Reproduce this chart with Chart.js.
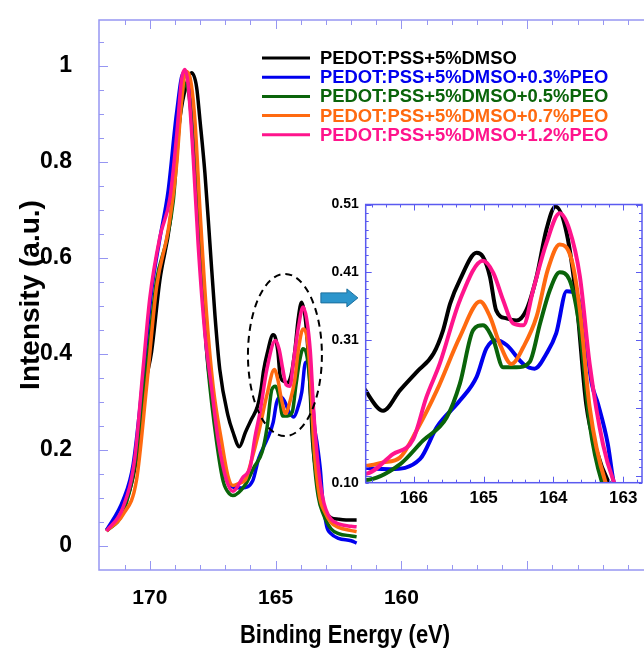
<!DOCTYPE html>
<html>
<head>
<meta charset="utf-8">
<script src="https://cdn.jsdelivr.net/npm/chart.js@4.4.0/dist/chart.umd.min.js"></script>
<style>
  html, body { margin: 0; padding: 0; background: #fff; overflow: hidden; }
  #wrap { position: relative; width: 644px; height: 650px; overflow: hidden; }
  #main { position: absolute; left: 0; top: 0; }
  #inset { position: absolute; left: 320px; top: 190px; }
</style>
</head>
<body>
<div id="wrap">
  <canvas id="main" width="660" height="650"></canvas>
  <canvas id="inset" width="324" height="320"></canvas>
</div>
<script>
// sample names and colours
const seriesLabels = [
    'PEDOT:PSS+5%DMSO',
    'PEDOT:PSS+5%DMSO+0.3%PEO',
    'PEDOT:PSS+5%DMSO+0.5%PEO',
    'PEDOT:PSS+5%DMSO+0.7%PEO',
    'PEDOT:PSS+5%DMSO+1.2%PEO'
];
const seriesColors = ['#000000', '#0000ee', '#0a640a', '#ff6a10', '#ff148c'];

// S 2p spectra: binding energy (eV) / normalised intensity
const beDMSO = [171.72, 171.06, 170.53, 170.2, 169.93, 169.6, 169.2, 168.81, 168.54, 168.34, 168.14, 168.01, 167.81, 167.61, 167.41, 167.22, 166.89, 166.70, 166.44, 166.2, 165.96, 165.72, 165.58, 165.48, 165.34, 165.10, 165.01, 164.91, 164.82, 164.67, 164.53, 164.39, 164.24, 164.10, 163.97, 163.81, 163.67, 163.53, 163.38, 163.22, 163.0, 162.8, 162.5, 162.0, 161.78];
const intDMSO = [0.032, 0.077, 0.181, 0.33, 0.404, 0.553, 0.672, 0.888, 0.962, 0.985, 0.955, 0.888, 0.776, 0.628, 0.479, 0.367, 0.27, 0.237, 0.206, 0.236, 0.263, 0.29, 0.325, 0.364, 0.399, 0.439, 0.433, 0.404, 0.354, 0.342, 0.339, 0.354, 0.404, 0.473, 0.507, 0.468, 0.369, 0.216, 0.147, 0.103, 0.07, 0.058, 0.055, 0.053, 0.053];

const bePEO03 = [171.72, 171.06, 170.66, 170.27, 169.93, 169.6, 169.27, 168.94, 168.67, 168.48, 168.28, 168.01, 167.74, 167.48, 167.22, 166.95, 166.70, 166.34, 165.91, 165.67, 165.34, 165.10, 164.96, 164.82, 164.67, 164.43, 164.27, 164.10, 163.96, 163.81, 163.67, 163.57, 163.45, 163.36, 163.22, 163.14, 162.97, 162.8, 162.5, 162.0, 161.78];
const intPEO03 = [0.032, 0.095, 0.17, 0.35, 0.53, 0.64, 0.74, 0.9, 0.985, 0.97, 0.851, 0.628, 0.404, 0.293, 0.196, 0.136, 0.122, 0.12, 0.135, 0.182, 0.221, 0.256, 0.298, 0.31, 0.303, 0.275, 0.268, 0.29, 0.32, 0.382, 0.379, 0.335, 0.246, 0.216, 0.157, 0.103, 0.04, 0.025, 0.015, 0.01, 0.005];

const bePEO05 = [171.72, 171.06, 170.6, 170.13, 169.73, 169.34, 169.07, 168.81, 168.61, 168.41, 168.21, 167.94, 167.68, 167.35, 167.08, 166.82, 166.70, 166.20, 165.87, 165.53, 165.34, 165.15, 165.01, 164.86, 164.72, 164.53, 164.34, 164.19, 164.05, 163.91, 163.77, 163.62, 163.48, 163.31, 163.1, 162.8, 162.5, 162.0, 161.78];
const intPEO05 = [0.03, 0.07, 0.166, 0.367, 0.553, 0.635, 0.717, 0.888, 0.962, 0.925, 0.776, 0.553, 0.367, 0.218, 0.133, 0.107, 0.104, 0.127, 0.162, 0.196, 0.246, 0.325, 0.332, 0.31, 0.27, 0.27, 0.278, 0.335, 0.384, 0.41, 0.399, 0.325, 0.187, 0.103, 0.065, 0.035, 0.025, 0.02, 0.018];

const bePEO07 = [171.72, 171.06, 170.53, 170.13, 169.73, 169.27, 168.94, 168.74, 168.57, 168.41, 168.21, 168.01, 167.74, 167.48, 167.15, 166.89, 166.70, 166.44, 166.20, 165.96, 165.67, 165.34, 165.05, 164.91, 164.77, 164.60, 164.43, 164.24, 164.08, 163.91, 163.74, 163.62, 163.48, 163.26, 163.05, 162.8, 162.5, 162.0, 161.78];
const intPEO07 = [0.03, 0.065, 0.136, 0.33, 0.539, 0.657, 0.791, 0.925, 0.988, 0.977, 0.888, 0.702, 0.479, 0.33, 0.218, 0.144, 0.125, 0.13, 0.137, 0.177, 0.236, 0.315, 0.367, 0.345, 0.305, 0.275, 0.30, 0.345, 0.414, 0.451, 0.429, 0.354, 0.211, 0.103, 0.07, 0.048, 0.038, 0.031, 0.029];

const bePEO12 = [171.72, 171.06, 170.6, 170.27, 170.0, 169.6, 169.2, 168.94, 168.74, 168.61, 168.48, 168.28, 168.08, 167.81, 167.55, 167.28, 166.95, 166.70, 166.30, 166.01, 165.82, 165.63, 165.34, 165.01, 164.86, 164.72, 164.58, 164.43, 164.29, 164.10, 163.91, 163.77, 163.62, 163.48, 163.29, 163.14, 163.0, 162.8, 162.5, 162.0, 161.78];
const intPEO12 = [0.03, 0.08, 0.181, 0.367, 0.516, 0.643, 0.724, 0.851, 0.97, 0.992, 0.962, 0.813, 0.628, 0.441, 0.33, 0.218, 0.136, 0.113, 0.142, 0.164, 0.226, 0.275, 0.369, 0.427, 0.409, 0.369, 0.335, 0.332, 0.384, 0.453, 0.497, 0.473, 0.404, 0.275, 0.157, 0.103, 0.075, 0.055, 0.045, 0.04, 0.039];

const energies = [beDMSO, bePEO03, bePEO05, bePEO07, bePEO12];
const intensities = [intDMSO, intPEO03, intPEO05, intPEO07, intPEO12];

// tick labels
const mainXLabels = [170, 165, 160];
const mainXMajor = [170, 165, 160, 155];
const mainYLabels = [0, 0.2, 0.4, 0.6, 0.8, 1];
const insetXLabels = [166, 165, 164, 163];
const insetYLabels = [0.51, 0.41, 0.31, 0.10];
const insetYMajor = [0.51, 0.41, 0.31, 0.21, 0.11];

const FONT = "'Liberation Sans', Arial, sans-serif";

function steps(from, to, step) {
    const out = [];
    const n = Math.round((to - from) / step);
    for (let i = 0; i <= n; i++) out.push(Math.round((from + i * step) * 1e4) / 1e4);
    return out;
}
const mainXTicks = steps(151, 171, 1);
const mainYTicks = steps(0, 1.05, 0.05);
const insetXTicks = steps(162.8, 166.6, 0.2);
const insetYTicks = steps(0.11, 0.51, 0.0125);

const near = (list, v) => list.find(t => Math.abs(t - v) < 1e-6);

function makeDatasets(width) {
    return seriesLabels.map((label, i) => ({
        label: label,
        data: energies[i].map((x, j) => ({ x: x, y: intensities[i][j] })),
        borderColor: seriesColors[i],
        backgroundColor: seriesColors[i],
        borderWidth: width,
        pointRadius: 0,
        fill: false,
        cubicInterpolationMode: 'monotone',
        order: 4 - i
    }));
}

// no extra label padding around the plot box, so the box sits where we ask
function noPad(s) {
    s.paddingTop = 0; s.paddingBottom = 0; s.paddingLeft = 0; s.paddingRight = 0;
}

// box frame with inward ticks on all four sides
function makeFrame(cfg) {
    return {
        id: 'frame',
        beforeDraw(chart) {
            if (!cfg.fill) return;
            const a = chart.chartArea;
            chart.ctx.save();
            chart.ctx.fillStyle = cfg.fill;
            chart.ctx.fillRect(a.left, a.top, a.width, a.height);
            chart.ctx.restore();
        },
        afterDatasetsDraw(chart) {
            const { ctx, chartArea: a, scales: { x, y } } = chart;
            ctx.save();
            ctx.strokeStyle = cfg.color;
            ctx.lineWidth = 1;
            ctx.beginPath();
            x.ticks.forEach(t => {
                const px = Math.round(x.getPixelForValue(t.value)) + 0.5;
                const len = near(cfg.majorX, t.value) !== undefined ? cfg.major : cfg.minor;
                ctx.moveTo(px, a.bottom); ctx.lineTo(px, a.bottom - len);
                ctx.moveTo(px, a.top); ctx.lineTo(px, a.top + len);
            });
            y.ticks.forEach(t => {
                const py = Math.round(y.getPixelForValue(t.value)) + 0.5;
                const len = near(cfg.majorY, t.value) !== undefined ? cfg.major : cfg.minor;
                ctx.moveTo(a.left, py); ctx.lineTo(a.left + len, py);
                ctx.moveTo(a.right, py); ctx.lineTo(a.right - len, py);
            });
            ctx.stroke();
            ctx.lineWidth = cfg.frameWidth;
            ctx.strokeRect(a.left, a.top, a.width, a.height);
            ctx.restore();
        }
    };
}

// ellipse + arrow marking the zoomed region, legend and x title
const ellipseCenter = [164.63, 0.397];
const ellipseRadius = [1.47, 0.169];
const arrowFrom = [163.2, 0.516];
const arrowTo = [161.73, 0.516];

const annotations = {
    id: 'annotations',
    afterDraw(chart) {
        const { ctx, scales: { x, y } } = chart;
        ctx.save();
        const cx = x.getPixelForValue(ellipseCenter[0]);
        const cy = y.getPixelForValue(ellipseCenter[1]);
        const rx = Math.abs(x.getPixelForValue(ellipseCenter[0] + ellipseRadius[0]) - cx);
        const ry = Math.abs(y.getPixelForValue(ellipseCenter[1] + ellipseRadius[1]) - cy);
        ctx.setLineDash([7, 5]);
        ctx.lineWidth = 2;
        ctx.strokeStyle = '#000';
        ctx.beginPath();
        ctx.ellipse(cx, cy, rx, ry, 0, 0, Math.PI * 2);
        ctx.stroke();
        ctx.setLineDash([]);

        const x0 = x.getPixelForValue(arrowFrom[0]);
        const x1 = x.getPixelForValue(arrowTo[0]);
        const ay = y.getPixelForValue(arrowFrom[1]);
        const head = 11;
        ctx.beginPath();
        ctx.moveTo(x0, ay - 5);
        ctx.lineTo(x1 - head, ay - 5);
        ctx.lineTo(x1 - head, ay - 9);
        ctx.lineTo(x1, ay);
        ctx.lineTo(x1 - head, ay + 9);
        ctx.lineTo(x1 - head, ay + 5);
        ctx.lineTo(x0, ay + 5);
        ctx.closePath();
        ctx.fillStyle = '#2c95cc';
        ctx.fill();
        ctx.lineWidth = 1;
        ctx.strokeStyle = '#1c6f9e';
        ctx.stroke();

        // legend
        ctx.font = 'bold 18.4px ' + FONT;
        ctx.textBaseline = 'middle';
        ctx.textAlign = 'left';
        seriesLabels.forEach((label, i) => {
            const ly = 58 + i * 19.2;
            ctx.strokeStyle = seriesColors[i];
            ctx.lineWidth = 3;
            ctx.beginPath();
            ctx.moveTo(262, ly);
            ctx.lineTo(310, ly);
            ctx.stroke();
            ctx.fillStyle = seriesColors[i];
            ctx.fillText(label, 320, ly + 1);
        });

        // x axis title, slightly tall like the original lettering
        ctx.font = 'bold 22px ' + FONT;
        ctx.fillStyle = '#000';
        ctx.textAlign = 'center';
        ctx.translate(345, 636);
        ctx.scale(1, 1.2);
        ctx.fillText('Binding Energy (eV)', 0, 0);
        ctx.restore();
    }
};

const tickFont = size => ({ family: FONT, size: size, weight: 'bold' });

new Chart(document.getElementById('main'), {
    type: 'line',
    data: { datasets: makeDatasets(3.5) },
    options: {
        responsive: false,
        animation: false,
        layout: { padding: { top: 20, right: 7, left: 0, bottom: 0 } },
        plugins: { legend: { display: false }, tooltip: { enabled: false } },
        scales: {
            x: {
                type: 'linear', reverse: true, min: 150, max: 172.02,
                afterBuildTicks: s => { s.ticks = mainXTicks.map(v => ({ value: v })); },
                afterFit: s => { s.height = 80; noPad(s); },
                grid: { display: false, drawTicks: false },
                border: { display: false },
                ticks: {
                    autoSkip: false, maxRotation: 0, padding: 16, color: '#000', font: tickFont(21),
                    callback: v => { const l = near(mainXLabels, v); return l === undefined ? '' : String(l); }
                }
            },
            y: {
                min: -0.051, max: 1.095,
                afterBuildTicks: s => { s.ticks = mainYTicks.map(v => ({ value: v })); },
                afterFit: s => { s.width = 99; noPad(s); },
                grid: { display: false, drawTicks: false },
                border: { display: false },
                title: { display: true, text: 'Intensity (a.u.)', color: '#000', font: tickFont(28), padding: { top: 14, bottom: 0 } },
                ticks: {
                    autoSkip: false, padding: 27, color: '#000', font: tickFont(23),
                    callback: v => { const l = near(mainYLabels, v); return l === undefined ? '' : String(l); }
                }
            }
        }
    },
    plugins: [makeFrame({ color: '#9696f2', major: 9, minor: 5, frameWidth: 1.5, majorX: mainXMajor, majorY: mainYLabels }), annotations]
});

new Chart(document.getElementById('inset'), {
    type: 'line',
    data: { datasets: makeDatasets(4) },
    options: {
        responsive: false,
        animation: false,
        layout: { padding: { top: 14.5, right: 2, left: 0, bottom: 0 } },
        plugins: { legend: { display: false }, tooltip: { enabled: false } },
        scales: {
            x: {
                type: 'linear', reverse: true, min: 162.73, max: 166.69,
                afterBuildTicks: s => { s.ticks = insetXTicks.map(v => ({ value: v })); },
                afterFit: s => { s.height = 27.3; noPad(s); },
                grid: { display: false, drawTicks: false },
                border: { display: false },
                ticks: {
                    autoSkip: false, maxRotation: 0, padding: 5, color: '#000', font: tickFont(17),
                    callback: v => { const l = near(insetXLabels, v); return l === undefined ? '' : String(l); }
                }
            },
            y: {
                min: 0.10, max: 0.51,
                afterBuildTicks: s => { s.ticks = insetYTicks.concat([0.10]).map(v => ({ value: v })); },
                afterFit: s => { s.width = 45.7; noPad(s); },
                grid: { display: false, drawTicks: false },
                border: { display: false },
                ticks: {
                    autoSkip: false, padding: 7, color: '#000', font: tickFont(14),
                    callback: v => { const l = near(insetYLabels, v); return l === undefined ? '' : l.toFixed(2); }
                }
            }
        }
    },
    plugins: [makeFrame({ color: '#5a5af0', fill: '#ffffff', major: 6, minor: 3, frameWidth: 1.5, majorX: insetXLabels, majorY: insetYMajor })]
});
</script>
</body>
</html>
